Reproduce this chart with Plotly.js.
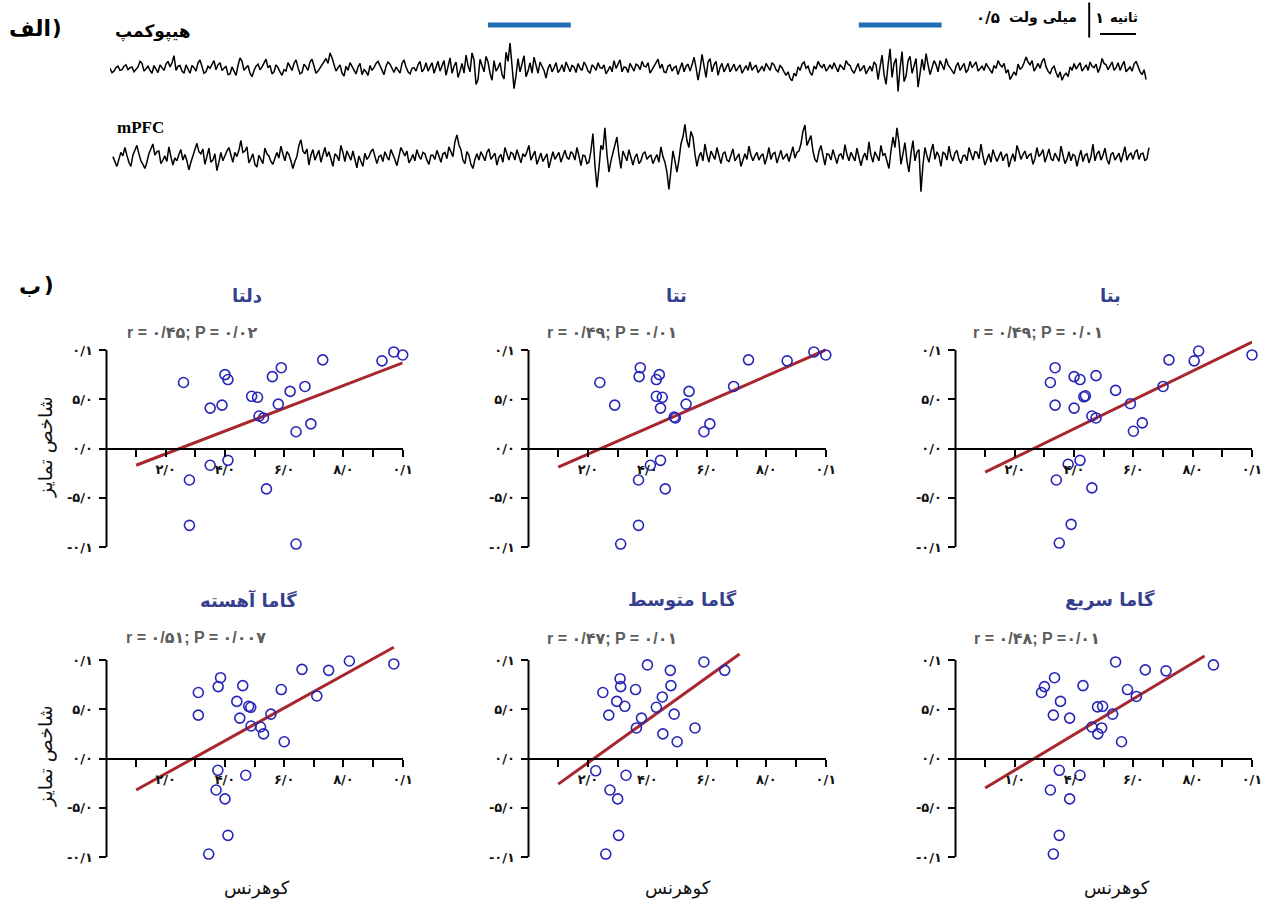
<!DOCTYPE html>
<html><head><meta charset="utf-8">
<script src="https://cdn.plot.ly/plotly-3.0.1.min.js"></script>
<style>body{margin:0;background:#fff}#chart{width:1266px;height:902px}</style>
</head><body><div id="chart"></div>
<script>
// ---------- Data ----------
const panelTitles = ['دلتا', 'تتا', 'بتا', 'گاما آهسته', 'گاما متوسط', 'گاما سریع'];
const statLabels = ['r = ۰/۴۵; P = ۰/۰۲', 'r = ۰/۴۹; P = ۰/۰۱', 'r = ۰/۴۹; P = ۰/۰۱',
                    'r = ۰/۵۱; P = ۰/۰۰۷', 'r = ۰/۴۷; P = ۰/۰۱', 'r = ۰/۴۸; P =۰/۰۱'];
const xTickVals = [0.1, 0.2, 0.3, 0.4, 0.5, 0.6, 0.7, 0.8, 0.9, 1.0];
const xTickText = ['', '۲/۰', '', '۴/۰', '', '۶/۰', '', '۸/۰', '', '۰/۱'];
const xTickTextFast = ['', '۱/۰', '', '۴/۰', '', '۶/۰', '', '۸/۰', '', '۰/۱'];
const yTickVals = [-1, -0.5, 0, 0.5, 1];
const yTickText = ['-۰/۱', '-۵/۰', '۰/۰', '۵/۰', '۰/۱'];
const xAxisTitle = 'کوهرنس';
const yAxisTitle = 'شاخص تمایز';

const deltaX = [0.26,0.28,0.28,0.35,0.35,0.39,0.40,0.41,0.41,0.49,0.51,0.515,0.53,0.54,0.56,0.59,0.58,0.62,0.64,0.64,0.67,0.69,0.73,0.93,0.97,1.00];
const deltaY = [0.67,-0.32,-0.78,0.41,-0.17,0.44,0.75,0.70,-0.12,0.53,0.52,0.33,0.31,-0.41,0.73,0.82,0.45,0.58,0.17,-0.97,0.63,0.25,0.90,0.89,0.98,0.95];
const deltaFitX = [0.10, 1.00];
const deltaFitY = [-0.17, 0.87];

const thetaX = [0.24,0.29,0.31,0.37,0.37,0.372,0.376,0.41,0.43,0.44,0.43,0.45,0.444,0.444,0.46,0.49,0.494,0.53,0.54,0.59,0.61,0.69,0.74,0.87,0.96,1.00];
const thetaY = [0.67,0.44,-0.97,-0.78,-0.32,0.73,0.82,-0.17,0.70,0.75,0.53,0.52,0.41,-0.12,-0.41,0.32,0.31,0.45,0.58,0.17,0.25,0.63,0.90,0.89,0.98,0.95];
const thetaFitX = [0.10, 1.00];
const thetaFitY = [-0.19, 1.00];

const betaX = [0.32,0.336,0.336,0.34,0.35,0.38,0.39,0.40,0.40,0.42,0.42,0.433,0.438,0.46,0.46,0.474,0.474,0.54,0.59,0.60,0.63,0.70,0.72,0.805,0.82,1.00];
const betaY = [0.67,0.82,0.44,-0.32,-0.96,-0.16,-0.77,0.73,0.41,-0.12,0.70,0.525,0.535,0.33,-0.40,0.74,0.31,0.59,0.455,0.175,0.26,0.63,0.90,0.89,0.99,0.95];
const betaFitX = [0.10, 1.00];
const betaFitY = [-0.24, 1.08];

const gammaSlowX = [0.31,0.31,0.345,0.37,0.377,0.376,0.385,0.40,0.41,0.44,0.45,0.46,0.47,0.48,0.487,0.488,0.52,0.53,0.555,0.59,0.60,0.66,0.71,0.75,0.82,0.97];
const gammaSlowY = [0.67,0.44,-0.97,-0.32,0.73,-0.12,0.82,-0.41,-0.78,0.58,0.41,0.74,-0.17,0.53,0.52,0.33,0.32,0.25,0.45,0.70,0.17,0.905,0.635,0.895,0.99,0.96];
const gammaSlowFitX = [0.10, 0.97];
const gammaSlowFitY = [-0.32, 1.13];

const gammaMidX = [0.226,0.25,0.27,0.26,0.274,0.297,0.30,0.303,0.308,0.31,0.324,0.328,0.36,0.363,0.38,0.40,0.43,0.45,0.452,0.477,0.479,0.49,0.50,0.56,0.59,0.66];
const gammaMidY = [-0.125,0.67,0.44,-0.97,-0.32,0.58,-0.41,-0.78,0.81,0.73,0.53,-0.17,0.70,0.31,0.41,0.95,0.52,0.625,0.25,0.895,0.74,0.45,0.17,0.31,0.98,0.895];
const gammaMidFitX = [0.10, 0.71];
const gammaMidFitY = [-0.26, 1.06];

const gammaFastX = [0.29,0.30,0.32,0.33,0.33,0.334,0.35,0.35,0.354,0.385,0.385,0.42,0.43,0.46,0.48,0.479,0.496,0.493,0.53,0.54,0.56,0.58,0.61,0.64,0.71,0.87];
const gammaFastY = [0.67,0.73,-0.32,0.44,-0.97,0.82,-0.12,-0.78,0.58,0.41,-0.41,-0.17,0.74,0.32,0.25,0.524,0.53,0.31,0.45,0.98,0.17,0.70,0.63,0.90,0.89,0.95];
const gammaFastFitX = [0.10, 0.84];
const gammaFastFitY = [-0.30, 1.04];

// LFP traces (µV), sampled every sampleInterval seconds
const sampleInterval = 0.05556;
const hippocampusTrace = [
 10,-50,-30,20,40,-20,-10,40,60,-10,20,30,-40,-10,30,110,80,-30,10,40,-20,-60,50,0,-50,60,20,-20,70,110,30,90,190,-20,40,50,-30,-60,60,0,
 -60,50,20,-30,90,130,30,-60,-40,40,10,70,120,-10,60,90,-20,10,40,-80,-70,30,-20,-90,50,160,110,-20,20,50,-60,-110,-20,40,70,-10,30,90,140,20,
 50,-70,-40,60,20,-40,-90,-10,-30,90,40,-20,80,130,20,-70,-50,70,30,-20,100,140,40,-60,-30,20,60,120,150,80,230,160,80,-30,20,60,-60,-100,40,-20,
 90,30,-20,-70,30,80,-80,-10,-40,-90,50,-20,20,80,110,40,-30,-80,40,100,70,0,-50,30,-10,-60,80,130,30,-40,-70,10,20,-30,60,110,-40,0,90,-30,
 30,90,-60,20,110,-30,50,120,-90,30,160,-60,40,100,-120,-30,80,-60,200,50,-40,230,130,-220,-150,140,60,-40,180,100,-60,-160,120,-30,20,90,-80,-140,240,110,
 370,40,-280,-90,150,-40,60,190,-110,-30,90,-60,170,40,-60,100,40,-20,-130,10,70,-40,20,90,-50,-10,60,-40,100,30,-40,50,30,-50,80,10,-20,100,50,-30,
 -60,60,30,-20,90,20,10,60,-70,-20,40,-40,120,10,60,130,-40,30,20,-50,80,20,-30,70,50,-10,110,40,30,90,-60,-10,40,80,140,10,70,-40,-50,40,
 60,-30,20,40,-80,10,90,-40,40,70,-30,60,170,20,-160,0,210,40,-120,100,150,-40,60,110,-90,20,80,-40,30,80,-40,20,70,-30,20,60,-60,0,50,-20,
 100,-20,30,50,-50,-10,40,-30,80,30,-20,90,60,-10,-40,50,20,-40,-90,-40,-130,-170,-60,-100,30,-20,70,100,10,40,-50,-90,40,0,110,50,20,70,-30,10,
 60,0,90,20,-40,60,30,-10,120,70,50,-20,-60,10,80,-30,20,50,-70,-20,40,-30,100,60,-150,30,200,-80,-220,60,290,-120,80,150,-320,10,250,-180,-100,120,
 180,-60,40,150,-260,-40,140,-20,220,60,-80,20,120,60,-40,120,60,-10,150,60,20,-30,-70,40,90,-20,30,80,-50,-10,110,20,60,100,-30,10,40,-20,80,30,
 -20,-60,50,10,120,60,30,80,-60,-10,-150,-100,-40,-90,70,0,20,90,170,100,60,120,-30,20,80,10,110,150,30,-30,-70,10,40,-50,-120,-40,-160,-90,-60,-110,
 30,-20,80,0,40,90,-30,10,60,-20,100,40,20,70,-50,20,150,80,60,-10,40,100,-20,20,90,-20,50,110,-40,0,30,-30,70,110,20,-40,-80,-10,-150];
const mpfcTrace = [
 20,-40,-120,-20,80,30,150,40,-60,-120,40,110,180,60,-40,-90,-150,-60,60,130,200,40,90,100,-80,-30,30,-50,160,20,-100,0,-40,50,120,-30,50,-40,-170,-60,
 30,100,210,90,60,130,-90,20,140,-60,-30,60,-180,-60,80,-40,40,100,150,40,-60,80,20,110,250,80,100,160,-70,-10,60,-90,-130,40,-20,-80,140,60,30,-50,
 -90,10,80,0,170,60,-40,90,50,-40,-150,-50,20,180,260,100,60,130,-100,40,120,-30,40,110,-60,40,150,20,90,-10,-120,60,30,-40,180,80,-50,100,40,-30,
 100,-30,-140,30,-60,-120,70,-20,20,90,130,10,-80,20,40,-50,90,20,-30,120,60,-20,-110,40,150,90,30,100,-70,-20,50,-40,120,30,-20,80,60,-30,-90,40,
 40,-20,110,30,-60,60,80,-10,160,90,20,230,330,190,120,-30,-80,90,40,-90,-150,-20,60,-30,90,30,-40,80,130,-20,30,70,-100,10,50,-60,150,60,-30,80,
 60,-30,120,30,-70,60,20,90,180,-30,40,100,-90,-10,70,-50,10,60,-140,-40,90,-20,40,80,-60,30,110,10,-20,90,60,-30,150,30,-110,40,30,-80,-60,100,
 350,-100,-420,-150,180,120,430,60,-200,-40,80,190,300,40,-150,100,40,-40,120,20,-100,10,60,-80,-40,60,90,-20,20,40,-80,-10,50,-60,160,20,-60,-200,-450,-180,
 100,-40,-200,-30,200,300,480,250,150,380,300,60,-120,20,80,-40,200,50,-60,100,30,-20,150,10,-80,60,90,-30,-50,40,130,-40,20,60,-120,-40,60,-20,170,40,
 -40,30,80,-30,30,60,-90,10,150,-20,60,80,-70,20,110,-20,20,60,-50,40,160,0,80,100,200,380,470,180,250,320,100,-20,-60,90,180,10,-100,60,50,-30,
 120,20,-80,40,60,-20,190,50,-40,80,20,-40,140,30,-110,10,70,-30,230,40,-60,90,30,-40,180,40,60,-50,-150,100,300,150,430,230,-90,60,220,-40,-200,60,
 250,-40,80,120,-480,-100,150,30,-60,90,200,-20,90,30,-120,80,60,-30,170,20,-40,70,110,-20,-80,30,40,-40,150,60,-30,90,80,-10,200,30,-100,-20,60,-60,
 120,30,-50,20,90,-40,30,60,-130,-20,60,-50,180,90,-20,50,100,-10,40,60,-90,-10,150,20,60,120,-60,30,130,-10,-40,70,20,-50,170,40,-80,-20,90,-40,
 50,30,-120,10,110,-50,40,60,-70,20,200,-40,60,100,-30,40,140,-20,-90,50,80,-30,20,70,-60,40,160,-30,40,70,-20,80,120,-20,60,70,-40,-10,150];
const epochStart = [10.5, 20.8];   // s
const epochEnd = [12.8, 23.1];     // s
const epochLevel = 630;            // µV
const scaleTime = [27.5, 28.5];    // 1 s
const scaleTimeLevel = 500;
const scaleVoltX = 27.2;
const scaleVolt = [450, 950];      // 0.5 mV

// ---------- Layout helpers ----------
const W = 1266, H = 902;
const colPx = [[106.5, 402.7], [528.5, 825.8], [955.5, 1252]];
const rowPx = [[350, 547], [660, 857]]; // pixel rows of y=+1 and y=-1
const yMin = -1, yMax = 1.15;
const fx = p => p / W, fy = p => 1 - p / H;

const panels = [
  {x: deltaX, y: deltaY, fx: deltaFitX, fy: deltaFitY},
  {x: thetaX, y: thetaY, fx: thetaFitX, fy: thetaFitY},
  {x: betaX, y: betaY, fx: betaFitX, fy: betaFitY},
  {x: gammaSlowX, y: gammaSlowY, fx: gammaSlowFitX, fy: gammaSlowFitY},
  {x: gammaMidX, y: gammaMidY, fx: gammaMidFitX, fy: gammaMidFitY},
  {x: gammaFastX, y: gammaFastY, fx: gammaFastFitX, fy: gammaFastFitY}
];

const titlePos = [[247, 295], [677, 295], [1110, 295], [248, 600], [682, 600], [1110, 600]];
const statPos = [[192, 333], [612, 333], [1038, 333], [196, 637], [612, 638], [1037, 638]];
const xTitlePos = [[257, 888], [678, 888], [1117, 888]];

const traces = [];
const layout = {
  width: W, height: H, margin: {l: 0, r: 0, t: 0, b: 0},
  paper_bgcolor: '#fff', plot_bgcolor: 'rgba(0,0,0,0)', showlegend: false,
  shapes: [], annotations: []
};
const faFont = 'DejaVu Sans, Noto Sans, sans-serif';

panels.forEach((p, k) => {
  const r = Math.floor(k / 3), c = k % 3;
  const sfx = k === 0 ? '' : String(k + 1);
  const xid = 'x' + sfx, yid = 'y' + sfx;
  const unit = (rowPx[r][1] - rowPx[r][0]) / 2;
  const topPx = rowPx[r][0] - (yMax - 1) * unit;
  const zeroPx = (rowPx[r][0] + rowPx[r][1]) / 2;
  layout['xaxis' + sfx] = {
    domain: [fx(colPx[c][0]), fx(colPx[c][1])], range: [0, 1.0],
    anchor: 'free', position: fy(zeroPx),
    showline: true, linecolor: '#000', linewidth: 2,
    ticks: 'outside', ticklen: 7, tickwidth: 2, tickcolor: '#000',
    tickvals: xTickVals, ticktext: k === 5 ? xTickTextFast : xTickText,
    tickfont: {family: faFont, size: 13, color: '#111', weight: 'bold'},
    ticklabelstandoff: 2,
    showgrid: false, zeroline: false, fixedrange: true
  };
  layout['yaxis' + sfx] = {
    domain: [fy(rowPx[r][1]), fy(topPx)], range: [yMin, yMax], anchor: xid,
    showline: false, ticks: 'outside', ticklen: 7, tickwidth: 2, tickcolor: '#000',
    tickvals: yTickVals, ticktext: yTickText,
    tickfont: {family: faFont, size: 13, color: '#111', weight: 'bold'},
    ticklabelstandoff: 3,
    showgrid: false, zeroline: false, fixedrange: true
  };
  layout.shapes.push({
    type: 'line', xref: xid + ' domain', yref: yid + ' domain',
    x0: 0, x1: 0, y0: 0, y1: (1 - yMin) / (yMax - yMin),
    line: {color: '#000', width: 2}
  });
  traces.push({
    type: 'scatter', mode: 'lines', x: p.fx, y: p.fy, xaxis: xid, yaxis: yid,
    line: {color: '#a8272e', width: 3}, hoverinfo: 'skip'
  });
  traces.push({
    type: 'scatter', mode: 'markers', x: p.x, y: p.y, xaxis: xid, yaxis: yid,
    cliponaxis: false,
    marker: {symbol: 'circle-open', size: 10, color: '#2626b8', line: {color: '#2626b8', width: 1.6}}
  });
  layout.annotations.push({
    xref: 'paper', yref: 'paper', x: fx(titlePos[k][0]), y: fy(titlePos[k][1]),
    xanchor: 'center', yanchor: 'middle', showarrow: false,
    text: '<b>' + panelTitles[k] + '</b>',
    font: {family: faFont, size: 18, color: '#363f8d'}
  });
  layout.annotations.push({
    xref: 'paper', yref: 'paper', x: fx(statPos[k][0]), y: fy(statPos[k][1]),
    xanchor: 'center', yanchor: 'middle', showarrow: false,
    text: '<b>' + statLabels[k] + '</b>',
    font: {family: 'Liberation Sans, DejaVu Sans, sans-serif', size: 16, color: '#5c5c5c'}
  });
});

// axis titles
[447, 756].forEach(py => layout.annotations.push({
  xref: 'paper', yref: 'paper', x: fx(45), y: fy(py), xanchor: 'center', yanchor: 'middle',
  showarrow: false, textangle: -90, text: yAxisTitle,
  font: {family: faFont, size: 19, color: '#111'}
}));
xTitlePos.forEach(pp => layout.annotations.push({
  xref: 'paper', yref: 'paper', x: fx(pp[0]), y: fy(pp[1]), xanchor: 'center', yanchor: 'middle',
  showarrow: false, text: xAxisTitle, font: {family: faFont, size: 18, color: '#111'}
}));

// ---------- LFP traces panel ----------
const tMax = (1150 - 110) / 36;
layout.xaxis7 = {domain: [fx(110), fx(1150)], range: [0, tMax], anchor: 'y7', visible: false, fixedrange: true};
layout.yaxis7 = {domain: [fy(112), fy(0)], range: [-614, 986], anchor: 'x7', visible: false, fixedrange: true};
layout.yaxis8 = {domain: [fy(205), fy(112)], range: [-671, 657], anchor: 'x7', visible: false, fixedrange: true};

traces.push({type: 'scatter', mode: 'lines', y: hippocampusTrace, x0: 0, dx: sampleInterval,
  xaxis: 'x7', yaxis: 'y7', line: {color: '#000', width: 1.5}, hoverinfo: 'skip'});
traces.push({type: 'scatter', mode: 'lines', y: mpfcTrace, x0: 0.08, dx: sampleInterval,
  xaxis: 'x7', yaxis: 'y8', line: {color: '#000', width: 1.5}, hoverinfo: 'skip'});
epochStart.forEach((s, i) => traces.push({type: 'scatter', mode: 'lines',
  x: [s, epochEnd[i]], y: [epochLevel, epochLevel], xaxis: 'x7', yaxis: 'y7',
  line: {color: '#1f6fb5', width: 5}, hoverinfo: 'skip'}));
traces.push({type: 'scatter', mode: 'lines', x: scaleTime, y: [scaleTimeLevel, scaleTimeLevel],
  xaxis: 'x7', yaxis: 'y7', line: {color: '#000', width: 2}, hoverinfo: 'skip'});
traces.push({type: 'scatter', mode: 'lines', x: [scaleVoltX, scaleVoltX], y: scaleVolt,
  xaxis: 'x7', yaxis: 'y7', line: {color: '#000', width: 2}, hoverinfo: 'skip'});

// labels: pieces placed separately so the visual order matches the figure
const topLabels = [
  {t: '<b>الف</b>', x: 30, y: 29, s: 22, f: faFont},
  {t: '<b>)</b>', x: 57, y: 28, s: 21, f: faFont},
  {t: '<b>ب</b>', x: 30, y: 287, s: 22, f: faFont},
  {t: '<b>)</b>', x: 49, y: 285, s: 21, f: faFont},
  {t: '<b>هیپوکمپ</b>', x: 153, y: 31, s: 17, f: faFont},
  {t: '<b>mPFC</b>', x: 140, y: 128, s: 17, f: 'Liberation Serif, serif'},
  {t: '<b>۰/۵</b>', x: 988, y: 18, s: 15, f: faFont},
  {t: '<b>میلی ولت</b>', x: 1043, y: 18, s: 14, f: faFont},
  {t: '<b>۱</b>', x: 1099, y: 18, s: 15, f: faFont},
  {t: '<b>ثانیه</b>', x: 1124, y: 18, s: 13, f: faFont}
];
topLabels.forEach(l => layout.annotations.push({
  xref: 'paper', yref: 'paper', x: fx(l.x), y: fy(l.y), xanchor: 'center', yanchor: 'middle',
  showarrow: false, text: l.t, font: {family: l.f, size: l.s, color: '#000'}
}));

Plotly.newPlot('chart', traces, layout, {displayModeBar: false, staticPlot: true});
</script></body></html>
